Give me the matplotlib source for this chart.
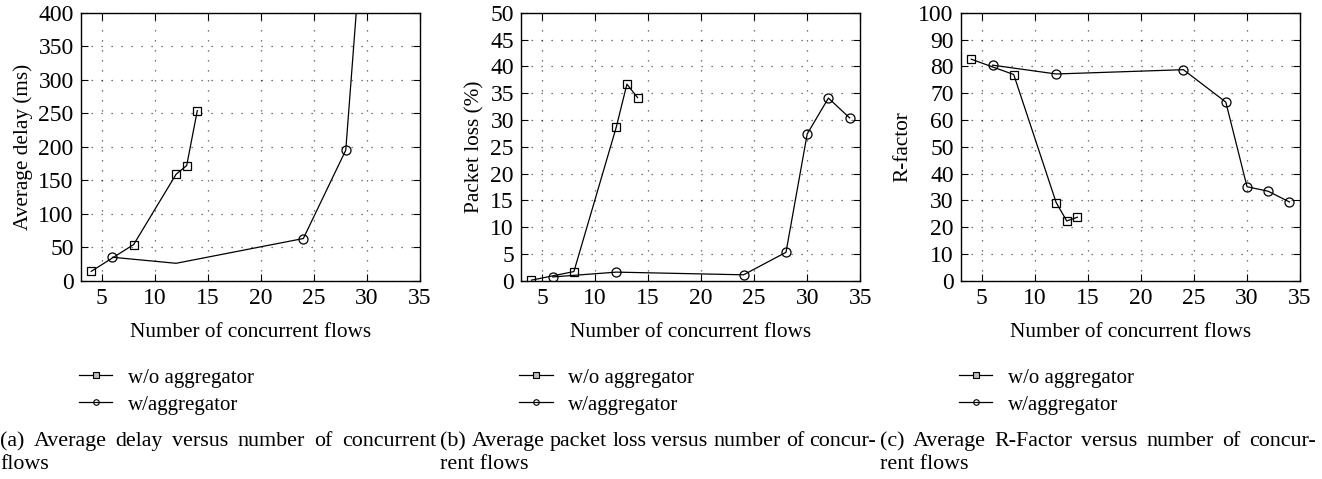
import matplotlib
matplotlib.use("Agg")
import matplotlib.pyplot as plt
from matplotlib.lines import Line2D

plt.rcParams['font.family'] = ['Liberation Serif', 'DejaVu Serif']

# (a) average delay
delay_x_wo = [4, 8, 12, 13, 14]
delay_y_wo = [14, 54, 159, 172, 254]
delay_x_w = [6, 12, 24, 28, 30]
delay_y_w = [35, 26, 63, 195, 611]

# (b) packet loss
loss_x_wo = [4, 8, 12, 13, 14]
loss_y_wo = [0.1, 1.7, 28.7, 36.7, 34.2]
loss_x_w = [6, 12, 24, 28, 30, 32, 34]
loss_y_w = [0.7, 1.6, 1.1, 5.3, 27.4, 34.1, 30.4]

# (c) R-factor
rf_x_wo = [4, 8, 12, 13, 14]
rf_y_wo = [82.7, 77.0, 29.2, 22.3, 23.7]
rf_x_w = [6, 12, 24, 28, 30, 32, 34]
rf_y_w = [80.5, 77.2, 78.8, 66.7, 35.1, 33.4, 29.4]

xticks = [5, 10, 15, 20, 25, 30, 35]
xlabel = "Number of concurrent flows"
labels = ["w/o aggregator", "w/aggregator"]

captions = [
    ["(a) Average delay versus number of concurrent", "flows"],
    ["(b) Average packet loss versus number of concur-", "rent flows"],
    ["(c) Average R-Factor versus number of concur-", "rent flows"],
]

panels = [
    (delay_x_wo, delay_y_wo, delay_x_w, delay_y_w, "Average delay (ms)", 400, 50, [0, 2, 3]),
    (loss_x_wo, loss_y_wo, loss_x_w, loss_y_w, "Packet loss (%)", 50, 5, None),
    (rf_x_wo, rf_y_wo, rf_x_w, rf_y_w, "R-factor", 100, 10, None),
]

W, H = 1322, 479
fig = plt.figure(figsize=(W / 100, H / 100), dpi=100)
renderer = fig.canvas.get_renderer()
lefts = [0.061, 0.394, 0.7267]
cap_size = 15.8


def justify(x0, y, line, width_px):
    # spread the words of a caption line over the full column width
    words = line.split(" ")
    texts = [fig.text(0, y, w, fontsize=cap_size, va='baseline') for w in words]
    widths = [t.get_window_extent(renderer).width for t in texts]
    gap = (width_px - sum(widths)) / (len(words) - 1)
    x = x0 * W
    for t, w in zip(texts, widths):
        t.set_x(x / W)
        x += w + gap


for i, (xa, ya, xb, yb, ylab, ymax, ystep, mev) in enumerate(panels):
    ax = fig.add_axes([lefts[i], 0.414, 0.2567, 0.559])
    ax.plot(xa, ya, color='black', lw=0.9, marker='s', ms=6,
            mfc='none', mec='black', mew=0.9)
    ax.plot(xb, yb, color='black', lw=0.9, marker='o', ms=6.5,
            mfc='none', mec='black', mew=0.9, markevery=mev)
    ax.set_xlim(3, 35)
    ax.set_ylim(0, ymax)
    ax.set_xticks(xticks)
    ax.set_yticks(range(0, ymax + 1, ystep))
    ax.tick_params(direction='in', top=True, right=True, labelsize=17,
                   length=5, width=0.8, pad=5)
    ax.grid(True, linestyle=(0, (1, 7)), color='black', lw=0.9, alpha=0.7)
    for s in ax.spines.values():
        s.set_linewidth(1.0)
    ax.set_xlabel(xlabel, fontsize=15.3, labelpad=10)
    ax.set_ylabel(ylab, fontsize=15.3, labelpad=4)

    h1 = Line2D([], [], color='black', lw=0.9, marker='s', ms=4,
                mfc='#bbbbbb', mec='black', mew=0.8)
    h2 = Line2D([], [], color='black', lw=0.9, marker='o', ms=4,
                mfc='none', mec='black', mew=0.8)
    ax.legend([h1, h2], labels, loc='center left', bbox_to_anchor=(-0.005, -0.413),
              frameon=False, fontsize=15, handlelength=1.6, handletextpad=0.75,
              labelspacing=0.35, borderaxespad=0, borderpad=0)

    cx = lefts[i] - 0.061
    justify(cx, 1 - 446 / H, captions[i][0], 436)
    fig.text(cx, 1 - 469 / H, captions[i][1], fontsize=cap_size, va='baseline')

fig.savefig("out.png", dpi=100)
